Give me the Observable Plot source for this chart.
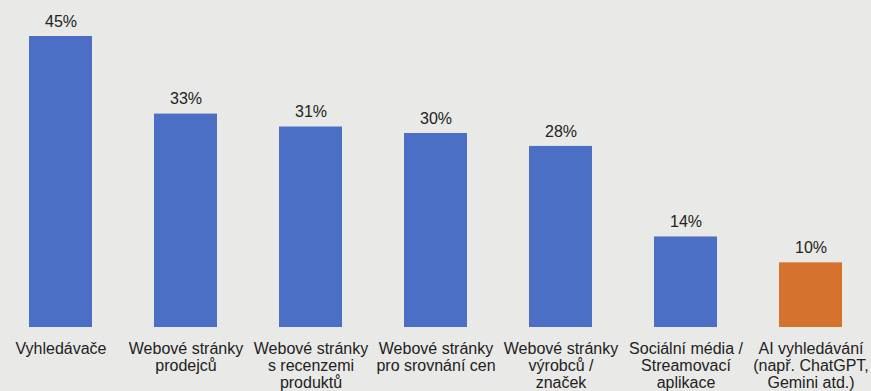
<!DOCTYPE html>
<html>
<head>
<meta charset="utf-8">
<script src="https://cdn.jsdelivr.net/npm/d3@7"></script>
<script src="https://cdn.jsdelivr.net/npm/@observablehq/plot@0.6"></script>
<style>
  html, body { margin: 0; padding: 0; background: #e9e9e7; }
  #chart svg { display: block; }
</style>
</head>
<body>
<div id="chart"></div>
<script>
const categories = [
  "Vyhledávače",
  "Webové stránky\nprodejců",
  "Webové stránky\ns recenzemi\nproduktů",
  "Webové stránky\npro srovnání cen",
  "Webové stránky\nvýrobců /\nznaček",
  "Sociální média /\nStreamovací\naplikace",
  "AI vyhledávání\n(např. ChatGPT,\nGemini atd.)"
];
const values = [45, 33, 31, 30, 28, 14, 10];
const highlighted = "AI vyhledávání\n(např. ChatGPT,\nGemini atd.)";

const data = categories.map((c, i) => ({category: c, value: values[i]}));

const chart = Plot.plot({
  width: 871,
  height: 391,
  marginLeft: 0,
  marginRight: 0,
  marginTop: 36,
  marginBottom: 64,
  style: {
    background: "#e9e9e7",
    fontFamily: "'Liberation Sans', Arial, sans-serif",
    fontSize: "16px",
    color: "#222"
  },
  x: {domain: categories, paddingInner: 0.5, paddingOuter: 0.21, label: null},
  y: {domain: [0, 45], axis: null},
  marks: [
    Plot.barY(data, {
      x: "category",
      y: "value",
      fill: d => d.category === highlighted ? "#d4722e" : "#4a6fc4"
    }),
    Plot.text(data, {
      x: "category",
      y: "value",
      text: d => d.value + "%",
      lineAnchor: "middle",
      dy: -15,
      fontSize: 16,
      fill: "#222"
    }),
    Plot.axisX({
      tickSize: 0,
      tickPadding: 14,
      fontSize: 16,
      lineHeight: 1.08,
      fill: "#222",
      label: null
    })
  ]
});
document.getElementById("chart").appendChild(chart);
</script>
</body>
</html>
